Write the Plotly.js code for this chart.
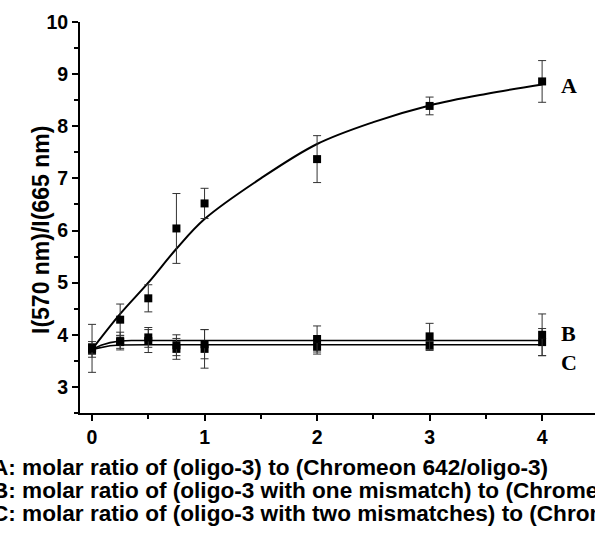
<!DOCTYPE html>
<html>
<head>
<meta charset="utf-8">
<script src="https://cdn.plot.ly/plotly-3.0.1.min.js"></script>
<style>html,body{margin:0;padding:0;background:#fff;}#chart{width:595px;height:536px;}</style>
</head>
<body>
<div id="chart"></div>
<script>
// Molar ratio (x)
const ratios = [0, 0.25, 0.5, 0.75, 1, 2, 3, 4];
// Series A: oligo-3
const valuesA = [3.74, 4.29, 4.70, 6.04, 6.52, 7.37, 8.39, 8.86];
const errA    = [0.46, 0.30, 0.26, 0.67, 0.29, 0.45, 0.17, 0.40];
// Series B: one mismatch
const valuesB = [3.75, 3.88, 3.95, 3.80, 3.82, 3.92, 3.97, 4.00];
const errB    = [0.12, 0.17, 0.19, 0.20, 0.28, 0.25, 0.25, 0.40];
// Series C: two mismatches
const valuesC = [3.70, 3.86, 3.88, 3.73, 3.73, 3.77, 3.80, 3.86];
const errC    = [0.13, 0.12, 0.22, 0.20, 0.37, 0.14, 0.10, 0.26];
// Fitted curves
const fitAx = [0, 0.25, 0.5, 0.75, 1, 1.5, 2, 2.5, 3, 3.5, 4];
const fitAy = [3.72, 4.40, 5.00, 5.65, 6.22, 7.00, 7.66, 8.08, 8.40, 8.62, 8.80];
const fitBx = [0, 0.08, 0.16, 0.25, 0.35, 0.5, 1, 2, 3, 4];
const fitBy = [3.72, 3.80, 3.85, 3.88, 3.89, 3.89, 3.89, 3.89, 3.89, 3.89];
const fitCx = [0, 0.08, 0.16, 0.25, 0.35, 0.5, 1, 2, 3, 4];
const fitCy = [3.72, 3.76, 3.79, 3.805, 3.81, 3.81, 3.81, 3.81, 3.81, 3.81];
// Text
const yTitle = "I(570 nm)/I(665 nm)";
const captions = [
  "A: molar ratio of (oligo-3) to (Chromeon 642/oligo-3)",
  "B: molar ratio of (oligo-3 with one mismatch) to (Chromeon 642/oligo-3)",
  "C: molar ratio of (oligo-3 with two mismatches) to (Chromeon 642/oligo-3)"
];
const seriesLabels = ["A", "B", "C"];
const labelY = [8.78, 4.02, 3.47];

const errStyle = (arr) => ({type: 'data', array: arr, visible: true, color: '#333', thickness: 1, width: 4});
const markerStyle = {symbol: 'square', size: 8, color: '#000'};
const traces = [
  {x: fitAx, y: fitAy, mode: 'lines', line: {color: '#000', width: 2, shape: 'spline'}, hoverinfo: 'skip'},
  {x: fitBx, y: fitBy, mode: 'lines', line: {color: '#000', width: 1.6}, hoverinfo: 'skip'},
  {x: fitCx, y: fitCy, mode: 'lines', line: {color: '#000', width: 1.6}, hoverinfo: 'skip'},
  {x: ratios, y: valuesC, error_y: errStyle(errC), mode: 'markers', marker: markerStyle},
  {x: ratios, y: valuesB, error_y: errStyle(errB), mode: 'markers', marker: markerStyle},
  {x: ratios, y: valuesA, error_y: errStyle(errA), mode: 'markers', marker: markerStyle}
];

const L = 80, R = 0, T = 22, B = 123;
const W = 595 - L - R, H = 536 - T - B;
const px = (p) => (p - L) / W;
const py = (p) => (536 - B - p) / H;
const sans = 'Liberation Sans, Arial, sans-serif';

const annotations = [];
annotations.push({xref: 'paper', yref: 'paper', x: px(26), y: py(230), text: yTitle, textangle: -90,
  showarrow: false, font: {family: sans, size: 23, color: '#000', weight: 'bold'}});
captions.forEach((t, i) => {
  annotations.push({xref: 'paper', yref: 'paper', x: px(-10), y: py(467 + i * 23), xanchor: 'left', yanchor: 'middle',
    text: t, showarrow: false, font: {family: sans, size: 22.6, color: '#000', weight: 'bold'}});
});
seriesLabels.forEach((t, i) => {
  annotations.push({xref: 'paper', yref: 'y', x: px(559), y: labelY[i], xanchor: 'left', yanchor: 'middle',
    text: t, showarrow: false, font: {family: 'Liberation Serif, Times New Roman, serif', size: 22, color: '#000', weight: 'bold'}});
});

const tickFont = {family: sans, size: 19.5, color: '#000', weight: 'bold'};
const layout = {
  width: 595, height: 536,
  margin: {l: L, r: R, t: T, b: B, pad: 0},
  paper_bgcolor: '#fff', plot_bgcolor: '#fff',
  showlegend: false,
  xaxis: {range: [-0.107, 4.47], tickvals: [0, 1, 2, 3, 4], ticks: 'outside', ticklen: 6, tickwidth: 2, tickcolor: '#000',
    showline: true, linecolor: '#000', linewidth: 2, showgrid: false, zeroline: false, tickfont: tickFont,
    minor: {dtick: 0.5, tick0: 0, ticks: 'outside', ticklen: 4, tickwidth: 2, tickcolor: '#000', showgrid: false}},
  yaxis: {range: [2.5, 10], tickvals: [3, 4, 5, 6, 7, 8, 9, 10], ticks: 'outside', ticklen: 6, tickwidth: 2, tickcolor: '#000',
    showline: true, linecolor: '#000', linewidth: 2, showgrid: false, zeroline: false, tickfont: tickFont,
    minor: {dtick: 0.5, tick0: 0, ticks: 'outside', ticklen: 4, tickwidth: 2, tickcolor: '#000', showgrid: false}},
  annotations: annotations
};
Plotly.newPlot('chart', traces, layout, {displayModeBar: false, staticPlot: true});
</script>
</body>
</html>
